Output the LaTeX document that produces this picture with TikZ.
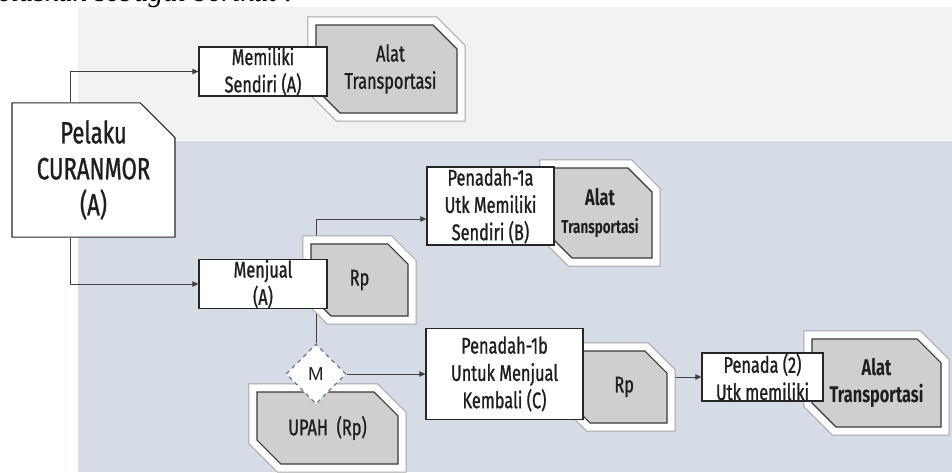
\documentclass[tikz,border=0pt]{standalone}
\usepackage{fontspec}
\setmainfont{Fira Sans}[FakeStretch=0.72,UprightFeatures={FakeBold=1}]
\newfontfamily\lettfont{Liberation Sans}
\newfontfamily\prosefont{Liberation Serif}
\usetikzlibrary{shapes.geometric,shapes.misc,arrows.meta,backgrounds}

\definecolor{bandgray}{HTML}{F2F2F2}
\definecolor{bandblue}{HTML}{D6DCE5}
\definecolor{cargofill}{HTML}{D0CECE}
\definecolor{cargoline}{HTML}{3B3838}
\definecolor{frameline}{HTML}{A6A6A6}
\definecolor{boxline}{HTML}{262626}
\definecolor{linkgray}{HTML}{404040}
\definecolor{dashblue}{HTML}{8497B0}
\definecolor{txt}{HTML}{1E1E1E}

\pgfdeclarelayer{links}
\pgfsetlayers{background,links,main}

\tikzset{
  actor/.style={rectangle,draw=boxline,fill=white,line width=0.8pt,inner sep=0pt,
    align=center,text=txt,font=\fontsize{17}{20.5}\selectfont},
  cargo/.style={chamfered rectangle,chamfered rectangle corners={north east,south west},
    chamfered rectangle xsep=9pt,chamfered rectangle ysep=9pt,
    fill=cargofill,draw=cargoline,line width=0.8pt,inner sep=0pt,
    align=center,text=txt,font=\fontsize{17}{20.5}\selectfont,
    preaction={draw=frameline,line width=13pt},
    preaction={draw=white,line width=11.5pt}},
  link/.style={->,draw=linkgray,line width=0.75pt}
}

\begin{document}
\begin{tikzpicture}[x=0.75pt,y=-0.75pt,>={Triangle[length=4.5pt,width=4pt]}]
\useasboundingbox (0,0) rectangle (952,472);

% bands
\begin{pgfonlayer}{background}
\fill[bandgray] (78,7) rectangle (952,140);
\fill[bandblue] (78,140) rectangle (952,472);
\draw[white,line width=0.75pt] (78,140) -- (952,140);
\end{pgfonlayer}

\begin{scope}
\clip (0,0) rectangle (952,472);
\node[anchor=base east,inner sep=0pt,font=\prosefont\itshape\fontsize{22}{26}\selectfont] (intro) at (294,1) {dijelaskan sebagai berikut :};
\end{scope}

% goods and money
\node[cargo,minimum width=105.75pt,minimum height=66pt] (alat1) at (386.5,69) {\hspace*{6pt}Alat\\\hspace*{6pt}Transportasi};
\node[cargo,minimum width=72.75pt,minimum height=54pt] (rp1) at (359.5,280) {Rp};
\node[cargo,minimum width=78pt,minimum height=67.5pt,font=\bfseries\fontsize{17}{20.5}\selectfont] (alat2) at (600,213) {Alat\\{\fontsize{14}{16}\selectfont Transportasi}};
\node[cargo,minimum width=105.75pt,minimum height=54pt] (upah) at (327.5,428) {UPAH\ \ (Rp)};
\node[cargo,minimum width=74.25pt,minimum height=54pt] (rp2) at (617.5,387) {\hspace*{10pt}Rp};
\node[cargo,minimum width=96.75pt,minimum height=66pt,font=\bfseries\fontsize{17}{20.5}\selectfont] (alat3) at (876.5,383) {Alat\\Transportasi};

% actors
\node[chamfered rectangle,chamfered rectangle corners=north east,
  chamfered rectangle xsep=13pt,chamfered rectangle ysep=13pt,
  draw=boxline,fill=white,line width=0.8pt,inner sep=0pt,align=center,text=txt,
  font=\fontsize{23}{27}\selectfont,minimum width=122.25pt,minimum height=100.5pt] (pelaku) at (93.5,170) {Pelaku\\CURANMOR\\(A)};
\node[actor,minimum width=96pt,minimum height=36.75pt] (memiliki) at (263,71.5) {Memiliki\\Sendiri (A)};
\node[actor,minimum width=96pt,minimum height=36pt] (menjual) at (263,284) {Menjual\\(A)};
\node[actor,minimum width=95.25pt,minimum height=58.5pt] (pen1a) at (490.5,206) {Penadah-1a\\Utk Memiliki\\Sendiri (B)};
\node[actor,minimum width=117.75pt,minimum height=68.25pt] (pen1b) at (504.5,374) {Penadah-1b\\Untuk Menjual\\Kembali (C)};
\node[actor,minimum width=90.75pt,minimum height=36pt] (penada) at (762.5,377) {Penada (2)\\Utk memiliki};

\node[diamond,aspect=1,minimum size=45pt,inner sep=0pt,draw=dashblue!80!black,dashed,
  fill=white,line width=0.9pt,text=txt,font=\lettfont\fontsize{14}{16}\selectfont] (mrk) at (316,374) {M};

% connectors
\begin{pgfonlayer}{links}
\draw[link] ([xshift=-17pt]pelaku.north) |- (memiliki.west);
\draw[link] ([xshift=-17pt]pelaku.south) |- (menjual.west);
\draw[link] (mrk.north) |- ([yshift=-9.75pt]pen1a.west);
\draw[link] (mrk.east) -- (pen1b.west);
\draw[link] (rp2.east |- penada.west) -- (penada.west);
\end{pgfonlayer}

\end{tikzpicture}
\end{document}
